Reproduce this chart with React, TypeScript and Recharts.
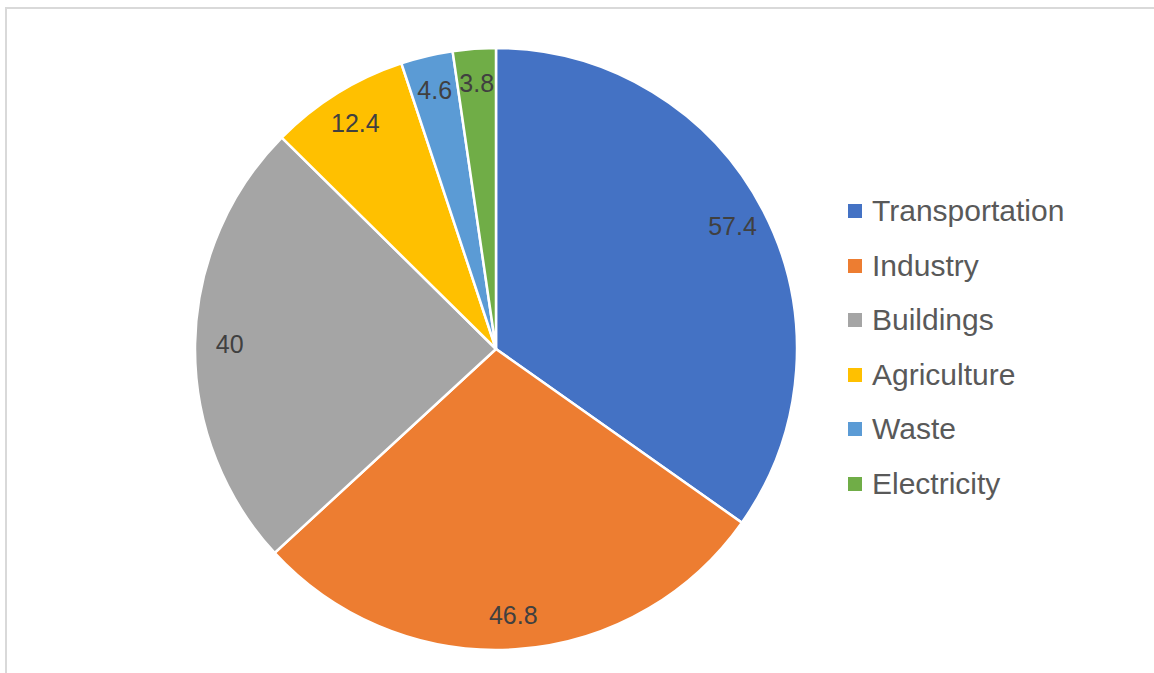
import { PieChart, Pie, Cell, Legend } from 'recharts'

const sectors = ['Transportation', 'Industry', 'Buildings', 'Agriculture', 'Waste', 'Electricity']
const emissions = [57.4, 46.8, 40, 12.4, 4.6, 3.8]
const sectorColors = ['#4472C4', '#ED7D31', '#A5A5A5', '#FFC000', '#5B9BD5', '#70AD47']

const data = sectors.map((name, i) => ({ name, value: emissions[i] }))

const FONT = '"Liberation Sans", Arial, sans-serif'
const RADIAN = Math.PI / 180

const renderLabel = (props: any) => {
  const { cx, cy, midAngle, outerRadius, value } = props
  const r = outerRadius * 0.885
  const x = cx + r * Math.cos(-midAngle * RADIAN)
  const y = cy + r * Math.sin(-midAngle * RADIAN)
  return (
    <text
      x={x}
      y={y}
      fill="#404040"
      fontSize={25}
      fontFamily={FONT}
      textAnchor="middle"
      dominantBaseline="central"
    >
      {value}
    </text>
  )
}

const renderLegend = (props: any) => {
  // keep the series order, not the alphabetical one
  const items = [...(props.payload || [])].sort(
    (a: any, b: any) => sectors.indexOf(a.value) - sectors.indexOf(b.value)
  )
  return (
    <div style={{ fontFamily: FONT, fontSize: 30, color: '#595959' }}>
      {items.map((entry: any) => (
        <div
          key={entry.value}
          style={{ height: 54.5, display: 'flex', alignItems: 'center' }}
        >
          <span
            style={{
              width: 14,
              height: 14,
              background: entry.color,
              display: 'inline-block',
              marginRight: 10,
            }}
          />
          <span>{entry.value}</span>
        </div>
      ))}
    </div>
  )
}

export default function App() {
  return (
    <div style={{ position: 'absolute', left: 0, top: 0, width: 1154, height: 673, background: '#fff' }}>
      <div
        style={{
          position: 'absolute',
          left: 5,
          top: 7,
          width: 1160,
          height: 700,
          border: '2px solid #d9d9d9',
          pointerEvents: 'none',
        }}
      />
      <PieChart width={1154} height={673} margin={{ top: 0, right: 0, bottom: 0, left: 0 }}>
        <Pie
          data={data}
          dataKey="value"
          nameKey="name"
          cx={496}
          cy={349}
          outerRadius={301}
          startAngle={90}
          endAngle={-270}
          stroke="#ffffff"
          strokeWidth={2.5}
          label={renderLabel}
          labelLine={false}
          isAnimationActive={false}
        >
          {data.map((d, i) => (
            <Cell key={d.name} fill={sectorColors[i]} />
          ))}
        </Pie>
        <Legend
          layout="vertical"
          align="right"
          verticalAlign="middle"
          content={renderLegend}
          wrapperStyle={{ left: 848, top: 184, width: 300 }}
        />
      </PieChart>
    </div>
  )
}
